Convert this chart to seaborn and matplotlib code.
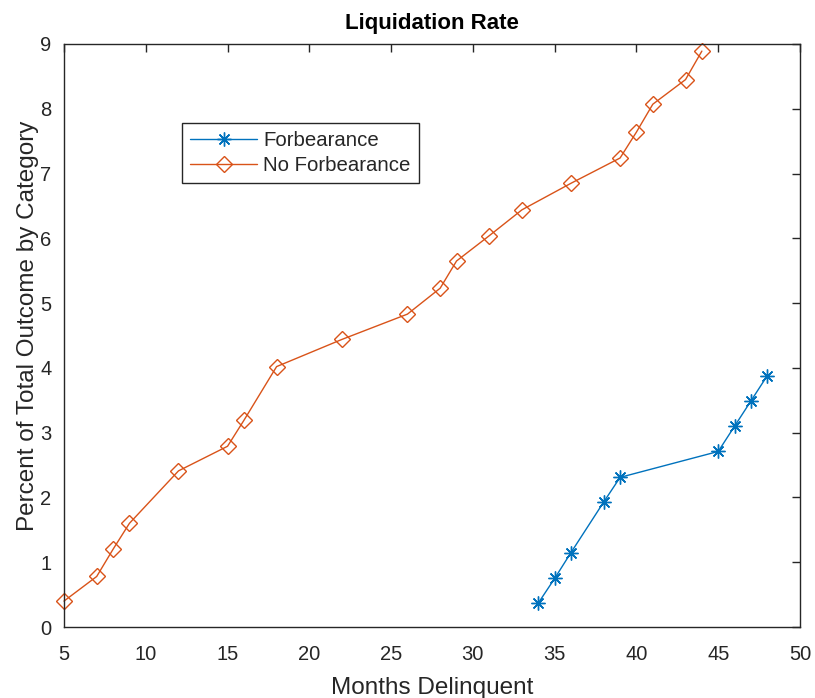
import matplotlib
matplotlib.use("Agg")
import matplotlib.pyplot as plt
import seaborn as sns
import pandas as pd

# Data
forb_months = [34, 35, 36, 38, 39, 45, 46, 47, 48]
forb_rate = [0.37, 0.75, 1.15, 1.93, 2.31, 2.71, 3.10, 3.49, 3.88]

noforb_months = [5, 7, 8, 9, 12, 15, 16, 18, 22, 26, 28, 29, 31, 33, 36, 39, 40, 41, 43, 44]
noforb_rate = [0.40, 0.78, 1.20, 1.60, 2.41, 2.79, 3.19, 4.02, 4.44, 4.83, 5.23, 5.65,
               6.04, 6.44, 6.85, 7.24, 7.64, 8.07, 8.45, 8.89]

series_names = ["Forbearance", "No Forbearance"]
x_ticks = [5, 10, 15, 20, 25, 30, 35, 40, 45, 50]
y_ticks = [0, 1, 2, 3, 4, 5, 6, 7, 8, 9]

sns.set_theme(style="white")
plt.rcParams['font.family'] = ['Liberation Sans', 'DejaVu Sans']

df = pd.concat([
    pd.DataFrame({"Months": forb_months, "Rate": forb_rate, "Series": series_names[0]}),
    pd.DataFrame({"Months": noforb_months, "Rate": noforb_rate, "Series": series_names[1]}),
])

fig = plt.figure(figsize=(8.15, 6.98), dpi=100)
ax = fig.add_axes([0.0785, 0.1017, 0.9031, 0.8353])

palette = {"Forbearance": "#0072BD", "No Forbearance": "#D95319"}
markers = {"Forbearance": (8, 2, 0), "No Forbearance": "D"}

for name in series_names:
    sub = df[df["Series"] == name]
    sns.lineplot(data=sub, x="Months", y="Rate", ax=ax, color=palette[name],
                 marker=markers[name], markersize=10 if name == "Forbearance" else 8,
                 markerfacecolor="none" if name == "No Forbearance" else palette[name],
                 markeredgecolor=palette[name], markeredgewidth=1.0,
                 linewidth=1.0, label=name, clip_on=False)

ax.set_xlim(5, 50)
ax.set_ylim(0, 9)
ax.set_xticks(x_ticks)
ax.set_yticks(y_ticks)
ax.tick_params(axis="both", which="both", direction="in", length=6, width=1,
               top=True, right=True, labelsize=14.5, colors="#262626")
ax.tick_params(axis="x", pad=13)
ax.tick_params(axis="y", pad=9)
for lbl in ax.get_xticklabels() + ax.get_yticklabels():
    lbl.set_color("#262626")
for s in ax.spines.values():
    s.set_visible(True)
    s.set_color("#262626")
    s.set_linewidth(1.0)

ax.set_xlabel("Months Delinquent", fontsize=17.5, color="#262626", labelpad=9)
ax.set_ylabel("Percent of Total Outcome by Category", fontsize=17.5, color="#262626")
ax.yaxis.set_label_coords(-0.0345, 0.516)
ax.set_title("Liquidation Rate", fontsize=16, fontweight="bold", color="black", pad=11)

leg = ax.legend(loc="upper left", bbox_to_anchor=(0.16, 0.865), fontsize=14.7,
                frameon=True, fancybox=False, edgecolor="#262626", framealpha=1,
                borderpad=0.4, handlelength=3.3, labelspacing=0.3, handletextpad=0.3,
                borderaxespad=0)
leg.get_frame().set_linewidth(1.0)

fig.savefig("out.png", dpi=100, facecolor="white")
